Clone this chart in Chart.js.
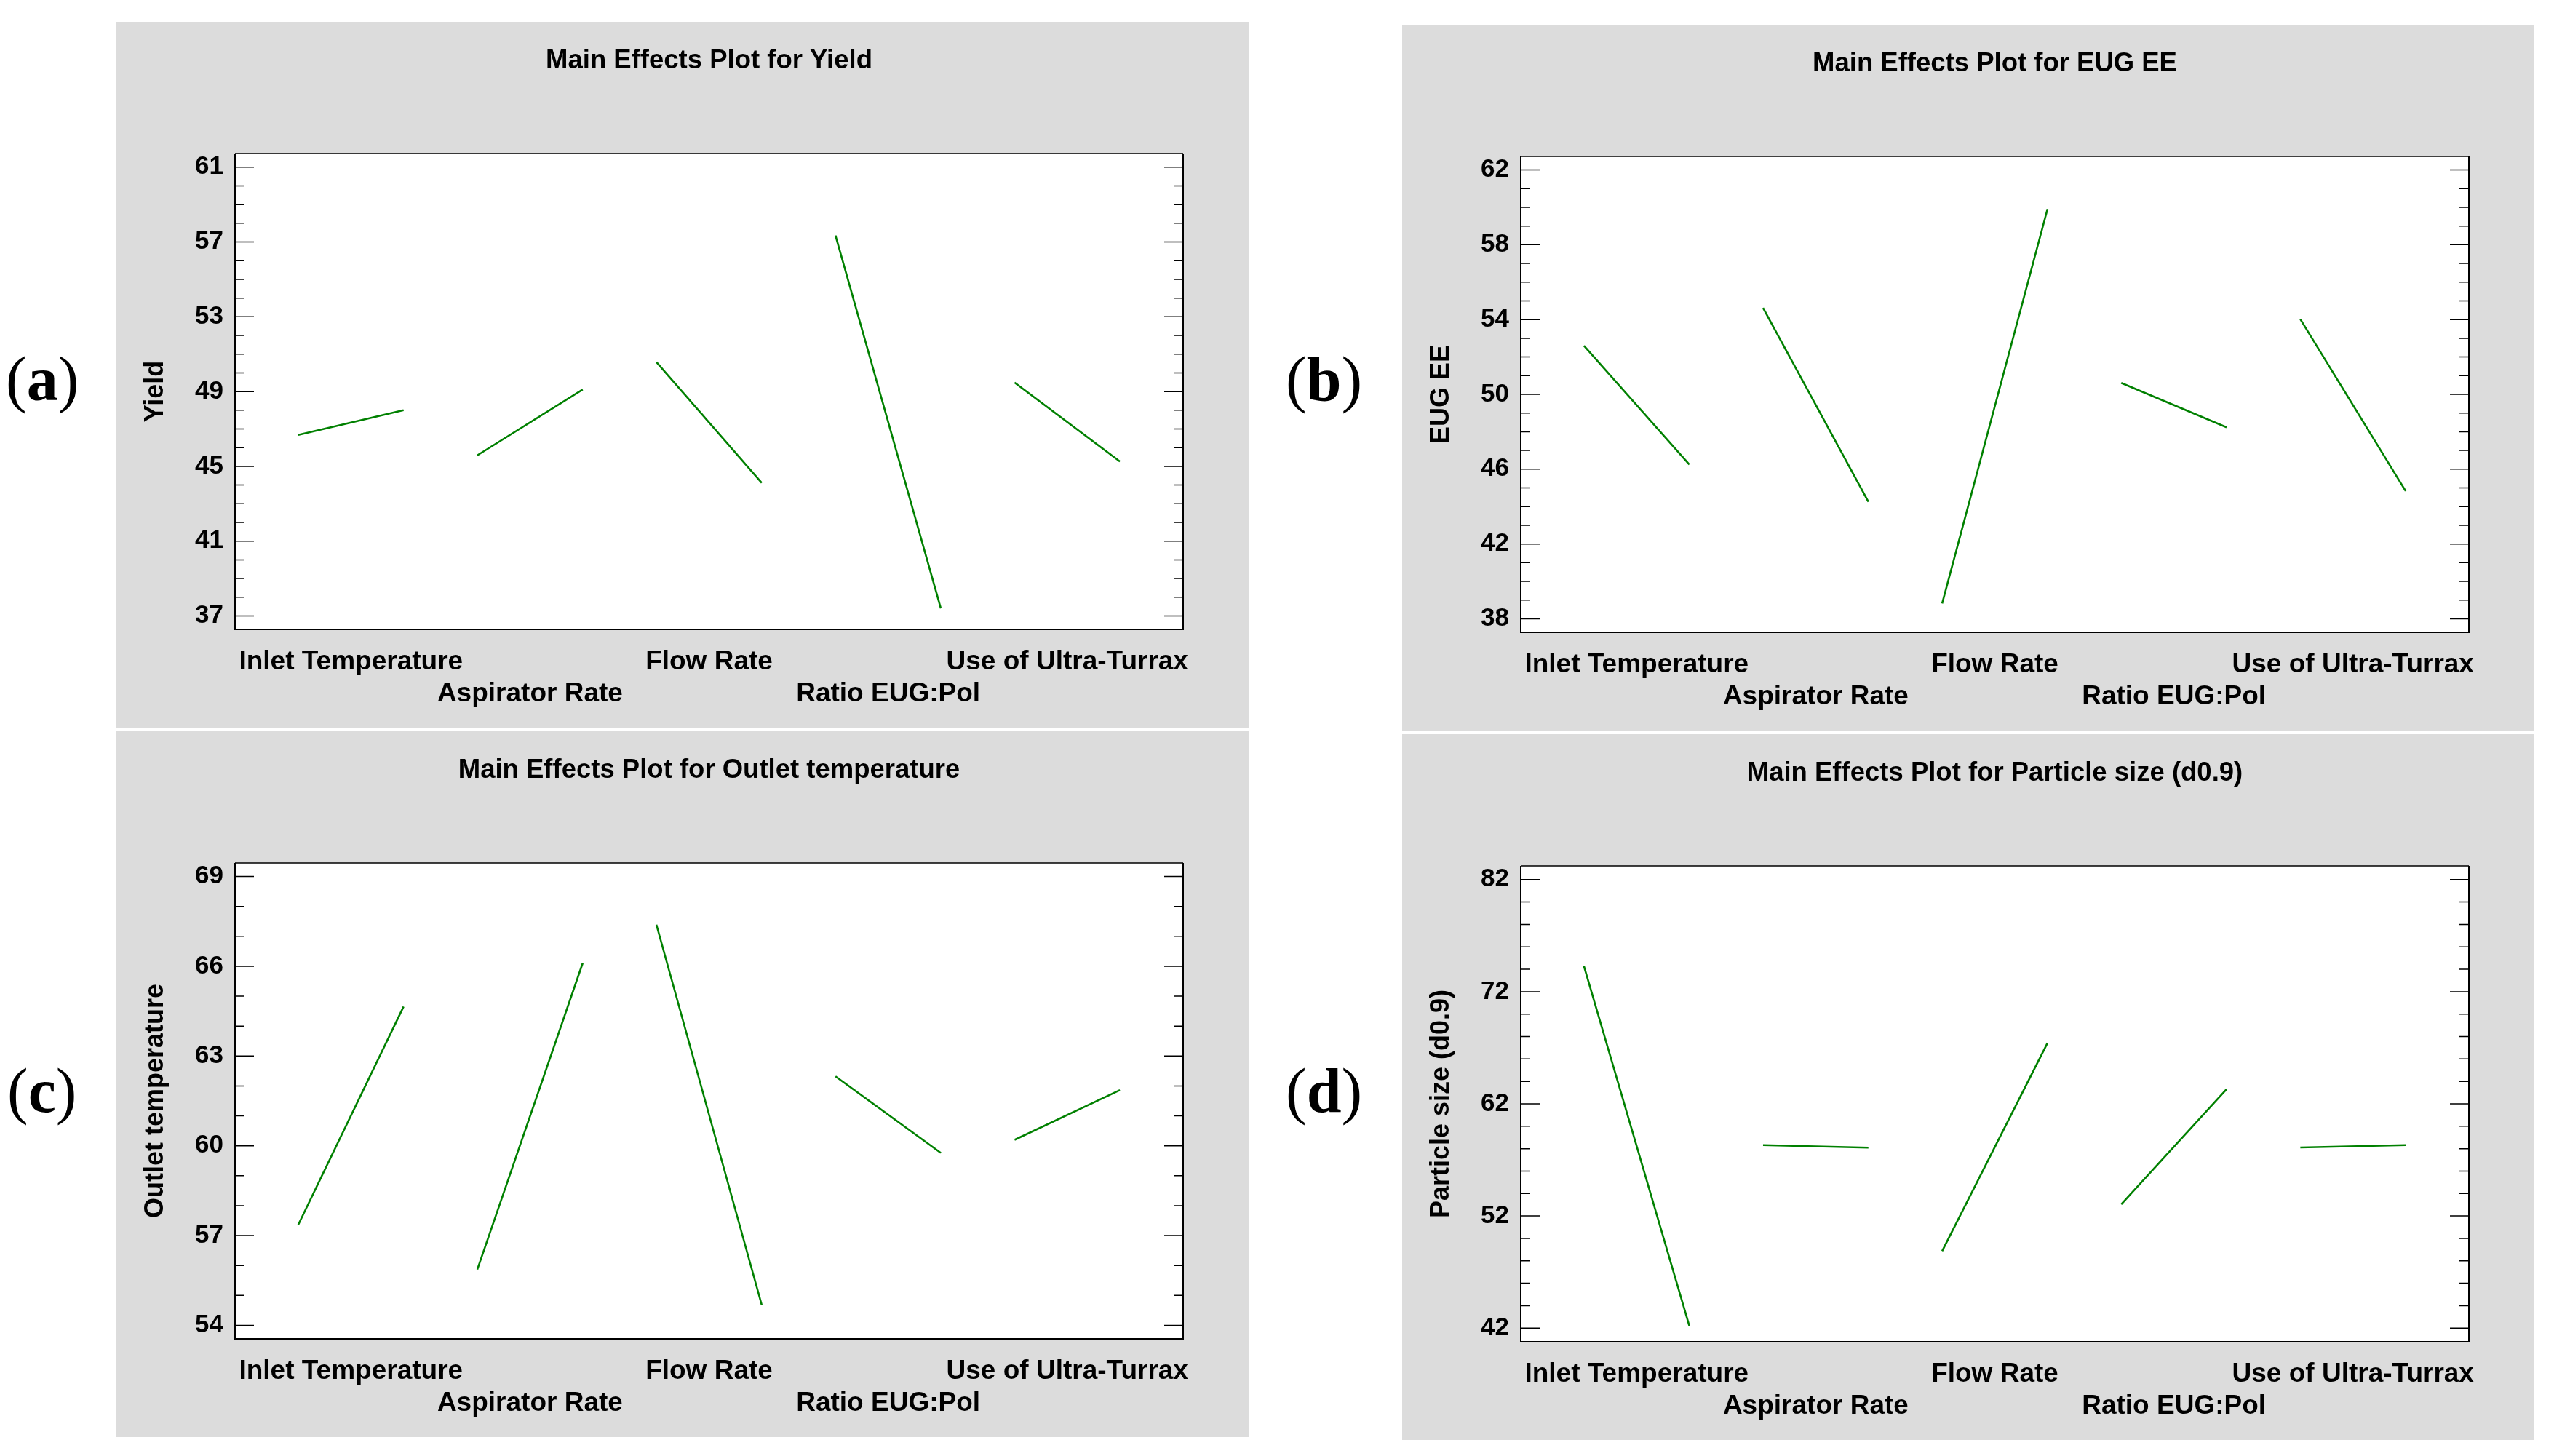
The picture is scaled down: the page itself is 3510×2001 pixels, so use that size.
<!DOCTYPE html>
<html>
<head>
<meta charset="utf-8">
<script src="https://cdn.jsdelivr.net/npm/chart.js@4"></script>
<style>
html,body{margin:0;padding:0;background:#fff;}
body{width:3510px;height:2001px;position:relative;overflow:hidden;}
canvas{position:absolute;background:#dcdcdc;}
.lbl{position:absolute;font-family:'Liberation Serif','Times New Roman',serif;font-size:86px;line-height:1;color:#000;white-space:nowrap;}
.lbl b{font-weight:bold;}
</style>
</head>
<body>
<div class="lbl" style="left:8px;top:478px">(<b>a</b>)</div>
<div class="lbl" style="left:1767px;top:478px">(<b>b</b>)</div>
<div class="lbl" style="left:10px;top:1456px">(<b>c</b>)</div>
<div class="lbl" style="left:1767px;top:1456px">(<b>d</b>)</div>
<canvas id="ca" width="1556" height="970" style="left:160px;top:30px;width:1556px;height:970px"></canvas>
<canvas id="cb" width="1556" height="970" style="left:1927px;top:34px;width:1556px;height:970px"></canvas>
<canvas id="cc" width="1556" height="970" style="left:160px;top:1005px;width:1556px;height:970px"></canvas>
<canvas id="cd" width="1556" height="970" style="left:1927px;top:1009px;width:1556px;height:970px"></canvas>
<script>
// ---- data ----
const factors = ['Inlet Temperature', 'Aspirator Rate', 'Flow Rate', 'Ratio EUG:Pol', 'Use of Ultra-Turrax'];

const yieldLow  = [46.68, 45.59, 50.58, 57.35, 49.48];
const yieldHigh = [48.00, 49.11, 44.12, 37.40, 45.26];
const yieldTicks = [37, 41, 45, 49, 53, 57, 61];
const yieldRange = [36.28, 61.73];

const eugLow  = [52.60, 54.62, 38.82, 50.61, 54.02];
const eugHigh = [46.25, 44.26, 59.91, 48.24, 44.83];
const eugTicks = [38, 42, 46, 50, 54, 58, 62];
const eugRange = [37.28, 62.72];

const outletLow  = [57.36, 55.87, 67.39, 62.32, 60.20];
const outletHigh = [64.65, 66.10, 54.68, 59.76, 61.86];
const outletTicks = [54, 57, 60, 63, 66, 69];
const outletRange = [53.55, 69.45];

const sizeLow  = [74.27, 58.32, 48.87, 53.03, 58.11];
const sizeHigh = [42.20, 58.09, 67.43, 63.31, 58.32];
const sizeTicks = [42, 52, 62, 72, 82];
const sizeRange = [40.78, 83.22];

// ---- layout of the factor axis (segment = 1 unit, gap 0.7, margin 0.6) ----
const X_MARGIN = 0.6, X_SPACING = 1.7, X_SEG = 1;
const X_MAX = 2 * X_MARGIN + factors.length * X_SEG + (factors.length - 1) * (X_SPACING - X_SEG);

Chart.defaults.font.family = "'Liberation Sans', Arial, Helvetica, sans-serif";
Chart.defaults.color = '#000';

const framePlugin = {
  id: 'frame',
  beforeDraw(chart) {
    const {ctx, chartArea: {left, top, right, bottom}} = chart;
    ctx.save();
    ctx.fillStyle = '#ffffff';
    ctx.fillRect(left, top, right - left, bottom - top);
    ctx.restore();
  },
  afterDraw(chart, args, opts) {
    const {ctx, chartArea: {left, top, right, bottom}} = chart;
    const ys = chart.scales.y;
    ctx.save();
    ctx.strokeStyle = '#000';
    ctx.lineWidth = 1.5;
    const step = opts.minor;
    const kStart = Math.ceil(ys.min / step - 1e-9), kEnd = Math.floor(ys.max / step + 1e-9);
    for (let k = kStart; k <= kEnd; k++) {
      const v = k * step;
      const major = opts.major.some(m => Math.abs(m - v) < 1e-6);
      const len = major ? 26 : 13;
      const py = ys.getPixelForValue(v);
      ctx.beginPath();
      ctx.moveTo(left, py); ctx.lineTo(left + len, py);
      ctx.moveTo(right, py); ctx.lineTo(right - len, py);
      ctx.stroke();
    }
    // frame
    ctx.lineWidth = 1.5;
    ctx.beginPath();
    ctx.moveTo(left, top); ctx.lineTo(right, top);
    ctx.stroke();
    ctx.lineWidth = 2;
    ctx.beginPath();
    ctx.moveTo(right, top); ctx.lineTo(right, bottom); ctx.lineTo(left, bottom); ctx.lineTo(left, top);
    ctx.stroke();
    ctx.restore();
  }
};

const panels = [
  {id: 'ca', title: 'Main Effects Plot for Yield', axis: 'Yield', low: yieldLow, high: yieldHigh, ticks: yieldTicks, range: yieldRange, minor: 1},
  {id: 'cb', title: 'Main Effects Plot for EUG EE', axis: 'EUG EE', low: eugLow, high: eugHigh, ticks: eugTicks, range: eugRange, minor: 1},
  {id: 'cc', title: 'Main Effects Plot for Outlet temperature', axis: 'Outlet temperature', low: outletLow, high: outletHigh, ticks: outletTicks, range: outletRange, minor: 1},
  {id: 'cd', title: 'Main Effects Plot for Particle size (d0.9)', axis: 'Particle size (d0.9)', low: sizeLow, high: sizeHigh, ticks: sizeTicks, range: sizeRange, minor: 2}
];

panels.forEach(p => {
  const datasets = factors.map((f, i) => {
    const x0 = X_MARGIN + X_SPACING * i;
    return {
      label: f,
      data: [{x: x0, y: p.low[i]}, {x: x0 + X_SEG, y: p.high[i]}],
      borderColor: '#008000',
      backgroundColor: '#008000',
      borderWidth: 2.6,
      pointRadius: 0,
      fill: false,
      tension: 0
    };
  });
  new Chart(document.getElementById(p.id), {
    type: 'line',
    data: {datasets},
    plugins: [framePlugin],
    options: {
      responsive: false,
      animation: false,
      devicePixelRatio: 1,
      layout: {padding: {left: 0, right: 90, top: 0, bottom: 0}},
      plugins: {
        legend: {display: false},
        tooltip: {enabled: false},
        title: {
          display: true, text: p.title, fullSize: false, color: '#000',
          font: {size: 36.5, weight: 'bold'},
          padding: {top: 32, bottom: 105.2}
        },
        frame: {minor: p.minor, major: p.ticks}
      },
      scales: {
        x: {
          type: 'linear', min: 0, max: X_MAX,
          grid: {display: false, drawTicks: false},
          border: {display: false},
          afterBuildTicks: s => { s.ticks = factors.map((f, i) => ({value: X_MARGIN + X_SPACING * i + X_SEG / 2})); },
          afterFit: s => { s.height = 135; },
          ticks: {
            autoSkip: false, maxRotation: 0, minRotation: 0, padding: 23, color: '#000',
            font: {size: 37, weight: 'bold', lineHeight: 1.19},
            callback: (v, i) => (i % 2 ? ['', factors[i]] : factors[i])
          }
        },
        y: {
          type: 'linear', min: p.range[0], max: p.range[1],
          grid: {display: false, drawTicks: false},
          border: {display: false},
          afterBuildTicks: s => { s.ticks = p.ticks.map(v => ({value: v})); },
          afterFit: s => { s.width = 163; },
          ticks: {padding: 16, color: '#000', font: {size: 35, weight: 'bold'}, callback: v => String(v)},
          title: {display: true, text: p.axis, color: '#000', font: {size: 36, weight: 'bold'}, padding: {top: 32, bottom: 0}}
        }
      }
    }
  });
});
</script>
</body>
</html>
